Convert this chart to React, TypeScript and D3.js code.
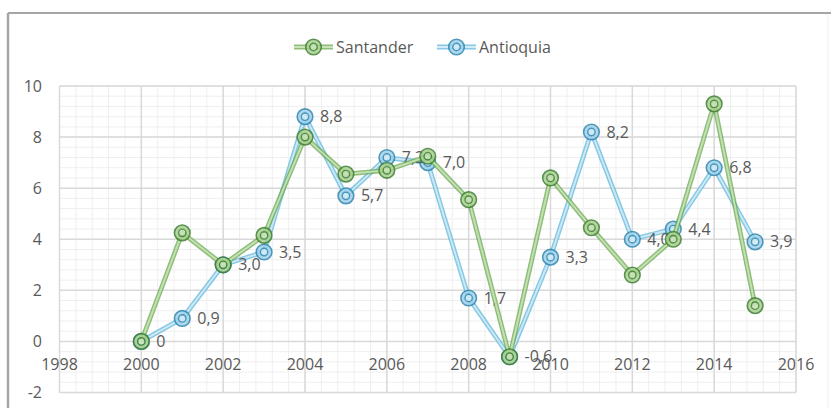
import React from "react";
import * as d3 from "d3";

const years = [2000, 2001, 2002, 2003, 2004, 2005, 2006, 2007, 2008, 2009, 2010, 2011, 2012, 2013, 2014, 2015];
const santander = [0, 4.25, 3.0, 4.15, 8.0, 6.55, 6.7, 7.25, 5.55, -0.6, 6.4, 4.45, 2.6, 4.0, 9.3, 1.4];
const antioquia = [0, 0.9, 3.0, 3.5, 8.8, 5.7, 7.2, 7.0, 1.7, -0.6, 3.3, 8.2, 4.0, 4.4, 6.8, 3.9];
const xTicks = [1998, 2000, 2002, 2004, 2006, 2008, 2010, 2012, 2014, 2016];
const yTicks = [-2, 0, 2, 4, 6, 8, 10];
const seriesNames = ["Santander", "Antioquia"];

const W = 831;
const H = 408;
const FONT = "'Open Sans', sans-serif";
const TEXT = "#595959";

const styles = {
  Santander: { edge: "#6aa84f", mid: "#c9e4b8", ring: "#3f7f34", fill: "#a8d18d" },
  Antioquia: { edge: "#5fb6d9", mid: "#d3ecf7", ring: "#2f86b0", fill: "#9fd2ec" },
};

function fmt(v: number) {
  return v === 0 ? "0" : v.toFixed(1).replace(".", ",");
}

function Marker({ cx, cy, s }: { cx: number; cy: number; s: any }) {
  return (
    <g opacity={0.85}>
      <circle cx={cx} cy={cy} r={7.8} fill={s.fill} stroke={s.ring} strokeWidth={1.6} />
      <circle cx={cx} cy={cy} r={3.7} fill={s.mid} stroke={s.ring} strokeWidth={1.4} />
    </g>
  );
}

export default function App() {
  const x = d3.scaleLinear().domain([1998, 2016]).range([59.5, 796]);
  const y = d3.scaleLinear().domain([-2, 10]).range([392.5, 86]);

  const minorX = d3.range(1998, 2016.001, 0.4);
  const minorY = d3.range(-2, 10.001, 0.4);

  const line = d3
    .line<[number, number]>()
    .x((d) => x(d[0]))
    .y((d) => y(d[1]));

  const seriesData: Record<string, number[]> = { Santander: santander, Antioquia: antioquia };
  const drawOrder = ["Antioquia", "Santander"];

  return (
    <svg width={W} height={H} style={{ position: "absolute", left: 0, top: 0, background: "#fff" }}>
      <rect x={0} y={0} width={W} height={H} fill="#fff" />
      {/* chart border */}
      <line x1={8} y1={13} x2={831} y2={13} stroke="#a6a6a6" strokeWidth={2} />
      <line x1={8} y1={13} x2={8} y2={408} stroke="#a6a6a6" strokeWidth={2.5} />
      <line x1={828} y1={14} x2={828} y2={408} stroke="#f0f0f0" strokeWidth={1} />

      {/* minor grid */}
      {minorX.map((v, i) => (
        <line key={"mx" + i} x1={x(v)} x2={x(v)} y1={y(10)} y2={y(-2)} stroke="#efefef" strokeWidth={1} />
      ))}
      {minorY.map((v, i) => (
        <line key={"my" + i} x1={x(1998)} x2={x(2016)} y1={y(v)} y2={y(v)} stroke="#efefef" strokeWidth={1} />
      ))}
      {/* major grid */}
      {xTicks.map((v) => (
        <line key={"gx" + v} x1={x(v)} x2={x(v)} y1={y(10)} y2={y(-2)} stroke="#d9d9d9" strokeWidth={1.5} />
      ))}
      {yTicks.map((v) => (
        <line key={"gy" + v} x1={x(1998)} x2={x(2016)} y1={y(v)} y2={y(v)} stroke="#d9d9d9" strokeWidth={1.5} />
      ))}

      {/* y tick labels */}
      {yTicks.map((v) => (
        <text key={"yl" + v} x={42} y={y(v)} dy="0.35em" textAnchor="end" fontFamily={FONT} fontSize={16} fill={TEXT}>
          {v}
        </text>
      ))}
      {/* x tick labels */}
      {xTicks.map((v) => (
        <text key={"xl" + v} x={x(v)} y={y(0) + 29} textAnchor="middle" fontFamily={FONT} fontSize={16} fill={TEXT}>
          {v}
        </text>
      ))}

      {/* series */}
      {drawOrder.map((name) => {
        const s = (styles as any)[name];
        const pts = years.map((yr, i) => [yr, seriesData[name][i]] as [number, number]);
        const d = line(pts) || "";
        return (
          <g key={name}>
            <path d={d} fill="none" stroke={s.edge} strokeWidth={4.8} strokeOpacity={0.75} strokeLinejoin="round" />
            <path d={d} fill="none" stroke={s.mid} strokeWidth={1.9} strokeOpacity={0.9} strokeLinejoin="round" />
            {pts.map((p, i) => (
              <Marker key={i} cx={x(p[0])} cy={y(p[1])} s={s} />
            ))}
            {name === "Antioquia" &&
              pts.map((p, i) => (
                <text
                  key={"l" + i}
                  x={x(p[0]) + 15}
                  y={y(p[1])}
                  dy="0.35em"
                  fontFamily={FONT}
                  fontSize={16}
                  fill={TEXT}
                >
                  {fmt(p[1])}
                </text>
              ))}
          </g>
        );
      })}

      {/* legend */}
      {seriesNames.map((name, i) => {
        const s = (styles as any)[name];
        const lx = i === 0 ? 294 : 437;
        const ly = 47;
        return (
          <g key={"lg" + name}>
            <line x1={lx} x2={lx + 39} y1={ly} y2={ly} stroke={s.edge} strokeWidth={4.8} strokeOpacity={0.75} />
            <line x1={lx} x2={lx + 39} y1={ly} y2={ly} stroke={s.mid} strokeWidth={1.9} />
            <Marker cx={lx + 19.5} cy={ly} s={s} />
            <text x={lx + 42} y={ly} dy="0.35em" fontFamily={FONT} fontSize={16} fill={TEXT}>
              {name}
            </text>
          </g>
        );
      })}
    </svg>
  );
}
